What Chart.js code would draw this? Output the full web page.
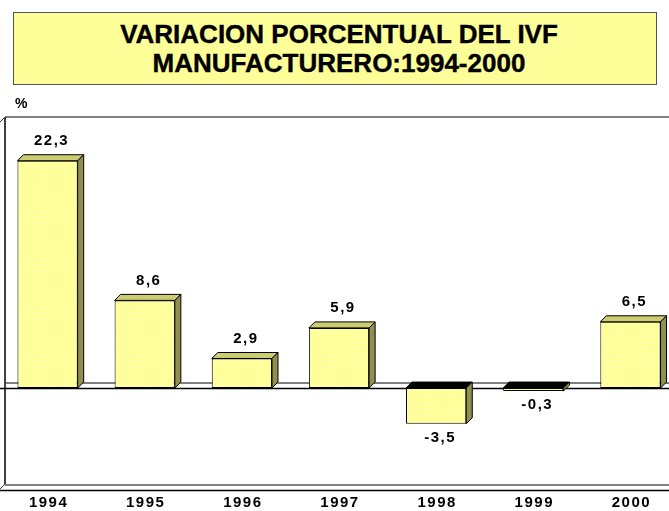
<!DOCTYPE html>
<html>
<head>
<meta charset="utf-8">
<script src="https://cdn.jsdelivr.net/npm/chart.js@4.4.0/dist/chart.umd.min.js"></script>
<style>
    html, body { margin: 0; padding: 0; background: #fff; overflow: hidden; width: 669px; height: 511px; }
    #titulo {
        position: absolute; left: 13px; top: 12px; width: 644px; height: 73px;
        background: #ffff99; border: 1px solid #555; box-sizing: border-box;
        font: bold 26px "Liberation Sans", Arial, sans-serif; color: #000;
        text-align: center; line-height: 29px; padding-top: 7px; padding-left: 8px;
        -webkit-text-stroke: 0.4px #000;
    }
    #caja { position: absolute; left: -1px; top: 0; width: 680px; height: 511px; }
</style>
</head>
<body>
<div id="titulo">VARIACION PORCENTUAL DEL IVF<br>MANUFACTURERO:1994-2000</div>
<div id="caja"><canvas id="grafico"></canvas></div>
<script>
const anos = ['1994', '1995', '1996', '1997', '1998', '1999', '2000'];
const variacion = [22.3, 8.6, 2.9, 5.9, -3.5, -0.3, 6.5];
const ejeMin = -10;
const ejeMax = 26;

const fuente = '"Liberation Sans", Arial, sans-serif';
const prof = 6; // profundidad del efecto 3D

function coma(v) {
    return v.toFixed(1).replace('.', ',');
}

// trama punteada de las barras
function trama() {
    const c = document.createElement('canvas');
    c.width = 3;
    c.height = 3;
    const g = c.getContext('2d');
    g.fillStyle = '#ffff92';
    g.fillRect(0, 0, 3, 3);
    g.fillStyle = '#ffffc4';
    g.fillRect(0, 0, 1, 1);
    g.fillRect(2, 1, 1, 1);
    return g.createPattern(c, 'repeat');
}

const tresD = {
    id: 'tresD',
    beforeDatasetsDraw(chart) {
        const ctx = chart.ctx;
        const a = chart.chartArea;
        const y0 = chart.scales.y.getPixelForValue(0);
        ctx.save();
        // pared del fondo
        ctx.strokeStyle = '#808080';
        ctx.lineWidth = 2;
        ctx.beginPath();
        ctx.moveTo(a.left + prof, a.top - prof);
        ctx.lineTo(a.right + prof, a.top - prof);
        ctx.moveTo(a.left + prof, y0 - prof + 1);
        ctx.lineTo(a.right + prof, y0 - prof + 1);
        ctx.moveTo(a.left + prof, a.bottom - prof + 1);
        ctx.lineTo(a.right + prof, a.bottom - prof + 1);
        ctx.stroke();
        ctx.strokeStyle = '#404040';
        ctx.lineWidth = 2;
        ctx.beginPath();
        ctx.moveTo(a.left + prof, a.top - prof);
        ctx.lineTo(a.left + prof, a.bottom - prof);
        ctx.stroke();
        ctx.lineWidth = 1;
        ctx.beginPath();
        ctx.moveTo(a.left, a.top);
        ctx.lineTo(a.left + prof, a.top - prof);
        ctx.moveTo(a.left, a.bottom);
        ctx.lineTo(a.left + prof, a.bottom - prof);
        ctx.stroke();
        // lineas del frente
        ctx.strokeStyle = '#000';
        ctx.lineWidth = 1.5;
        ctx.beginPath();
        ctx.moveTo(a.left, y0 + 0.5);
        ctx.lineTo(a.right, y0 + 0.5);
        ctx.moveTo(a.left, a.bottom + 0.5);
        ctx.lineTo(a.right, a.bottom + 0.5);
        ctx.stroke();
        ctx.restore();
    },
    afterDatasetsDraw(chart) {
        const ctx = chart.ctx;
        const meta = chart.getDatasetMeta(0);
        ctx.save();
        ctx.lineWidth = 1;
        ctx.strokeStyle = '#000';
        meta.data.forEach((bar, i) => {
            const v = variacion[i];
            const x1 = bar.x - bar.width / 2;
            const x2 = bar.x + bar.width / 2;
            const yt = Math.min(bar.y, bar.base);
            const yb = Math.max(bar.y, bar.base);
            // cara superior
            ctx.fillStyle = v >= 0 ? '#cccc70' : '#000';
            ctx.beginPath();
            ctx.moveTo(x1, yt);
            ctx.lineTo(x1 + prof, yt - prof);
            ctx.lineTo(x2 + prof, yt - prof);
            ctx.lineTo(x2, yt);
            ctx.closePath();
            ctx.fill();
            ctx.stroke();
            // cara lateral
            ctx.fillStyle = '#8f8f50';
            ctx.beginPath();
            ctx.moveTo(x2, yt);
            ctx.lineTo(x2 + prof, yt - prof);
            ctx.lineTo(x2 + prof, yb - prof);
            ctx.lineTo(x2, yb);
            ctx.closePath();
            ctx.fill();
            ctx.stroke();

            // etiqueta de valor
            ctx.fillStyle = '#000';
            ctx.font = 'bold 15px ' + fuente;
            ctx.letterSpacing = '1.5px';
            ctx.textAlign = 'center';
            ctx.textBaseline = 'middle';
            const ly = v >= 0 ? yt - 20 : yb + 14;
            ctx.fillText(coma(v), bar.x + 4, ly);
        });

        // etiquetas del eje x
        const x = chart.scales.x;
        anos.forEach((a, i) => {
            ctx.fillText(a, x.getPixelForValue(i) + 1, 503);
        });
        ctx.letterSpacing = '0px';
        ctx.textAlign = 'left';
        ctx.font = 'bold 14px ' + fuente;
        ctx.fillText('%', 16, 104);
        ctx.restore();
    }
};

new Chart(document.getElementById('grafico'), {
    type: 'bar',
    data: {
        labels: anos,
        datasets: [{
            data: variacion,
            backgroundColor: trama(),
            borderColor: '#000',
            borderWidth: 1,
            borderSkipped: false,
            categoryPercentage: 1,
            barPercentage: 0.62
        }]
    },
    options: {
        responsive: true,
        maintainAspectRatio: false,
        animation: false,
        layout: { padding: { top: 123, bottom: 21, left: 0, right: 0 } },
        plugins: { legend: { display: false }, tooltip: { enabled: false } },
        scales: {
            x: { display: false },
            y: { display: false, min: ejeMin, max: ejeMax }
        }
    },
    plugins: [tresD]
});
</script>
</body>
</html>
